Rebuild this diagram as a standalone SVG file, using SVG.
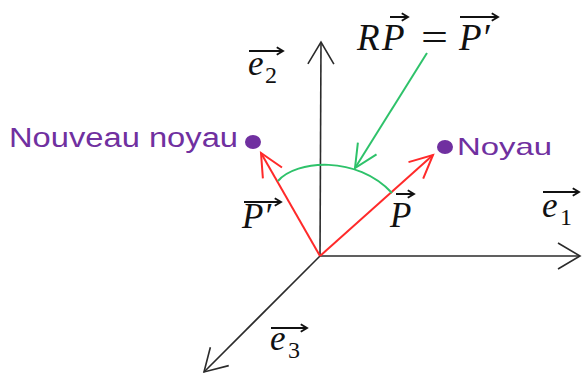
<svg xmlns="http://www.w3.org/2000/svg" width="582" height="376" viewBox="0 0 582 376">
<style>
.axis{stroke:#2b2b2b;stroke-width:1.6;fill:none}
.red{stroke:#ff2a2a;stroke-width:2;fill:none}
.green{stroke:#2ec26a;stroke-width:2;fill:none}
.vec{stroke:#111;stroke-width:2;fill:none}
.math{font-family:"Liberation Serif","DejaVu Serif",serif;font-style:italic;fill:#111}
.sub{font-family:"Liberation Serif","DejaVu Serif",serif;fill:#111}
.lbl{font-family:"Liberation Sans","Noto Sans",sans-serif;fill:#7030a0}
.dot{fill:#7030a0}
</style>
<defs>
<marker id="ha" markerUnits="userSpaceOnUse" markerWidth="30" markerHeight="30" viewBox="-25 -15 30 30" refX="0" refY="0" orient="auto">
<path d="M-22,-13 L0,0 L-22,13" fill="none" stroke="#2b2b2b" stroke-width="1.6"/>
</marker>
<marker id="hr" markerUnits="userSpaceOnUse" markerWidth="30" markerHeight="30" viewBox="-25 -15 30 30" refX="0" refY="0" orient="auto">
<path d="M-23,-11 L0,0 L-23,11" fill="none" stroke="#ff2a2a" stroke-width="2"/>
</marker>
<marker id="hg" markerUnits="userSpaceOnUse" markerWidth="30" markerHeight="30" viewBox="-25 -15 30 30" refX="0" refY="0" orient="auto">
<path d="M-23,-11 L0,0 L-23,11" fill="none" stroke="#2ec26a" stroke-width="2"/>
</marker>
<marker id="hv" markerUnits="userSpaceOnUse" markerWidth="10" markerHeight="10" viewBox="-6 -4 8 8" refX="0" refY="0" orient="auto">
<path d="M-5,-3 L0,0 L-5,3" fill="none" stroke="#111" stroke-width="1.5"/>
</marker>
</defs>

<g id="connectors">
<line class="axis" x1="320" y1="256" x2="321" y2="42" marker-end="url(#ha)"/>
<line class="axis" x1="320" y1="256" x2="580" y2="256" marker-end="url(#ha)"/>
<line class="axis" x1="320" y1="256" x2="204" y2="372" marker-end="url(#ha)"/>
<line class="red" x1="320" y1="256" x2="433" y2="155" marker-end="url(#hr)"/>
<line class="red" x1="320" y1="256" x2="261" y2="153" marker-end="url(#hr)"/>
<path class="green" d="M278,181 C296,160 357,155 392,193"/>
<line class="green" x1="427" y1="53" x2="355" y2="168" marker-end="url(#hg)"/>
</g>

<g id="formula">
<text class="math" x="357" y="50" font-size="37">R</text>
<text class="math" x="382" y="50" font-size="37">P</text>
<line class="vec" x1="390" y1="17" x2="408" y2="17" marker-end="url(#hv)"/>
<text class="sub" x="421" y="50" font-size="37" textLength="27" lengthAdjust="spacingAndGlyphs">=</text>
<text class="math" x="459" y="50" font-size="37">P′</text>
<line class="vec" x1="460" y1="17" x2="498" y2="17" marker-end="url(#hv)"/>
</g>

<g id="e2">
<text class="math" x="248" y="75" font-size="35">e</text>
<text class="sub" x="265" y="83" font-size="24">2</text>
<line class="vec" x1="249" y1="51" x2="283" y2="51" marker-end="url(#hv)"/>
</g>

<g id="e1">
<text class="math" x="542" y="217" font-size="35">e</text>
<text class="sub" x="560" y="225" font-size="24">1</text>
<line class="vec" x1="543" y1="192" x2="579" y2="192" marker-end="url(#hv)"/>
</g>

<g id="e3">
<text class="math" x="270" y="350" font-size="35">e</text>
<text class="sub" x="288" y="358" font-size="24">3</text>
<line class="vec" x1="271" y1="328" x2="307" y2="328" marker-end="url(#hv)"/>
</g>

<g id="P">
<text class="math" x="390" y="227" font-size="35">P</text>
<line class="vec" x1="396" y1="194" x2="414" y2="194" marker-end="url(#hv)"/>
</g>

<g id="Pprime">
<text class="math" x="242" y="228" font-size="35">P′</text>
<line class="vec" x1="244" y1="202" x2="281" y2="202" marker-end="url(#hv)"/>
</g>

<g id="noyau">
<ellipse class="dot" cx="445" cy="147" rx="8" ry="7"/>
<text class="lbl" x="457" y="155" font-size="24" textLength="95" lengthAdjust="spacingAndGlyphs">Noyau</text>
</g>

<g id="nouveau-noyau">
<ellipse class="dot" cx="253" cy="142" rx="8" ry="7"/>
<text class="lbl" x="9" y="147" font-size="27" textLength="229" lengthAdjust="spacingAndGlyphs">Nouveau noyau</text>
</g>
</svg>
